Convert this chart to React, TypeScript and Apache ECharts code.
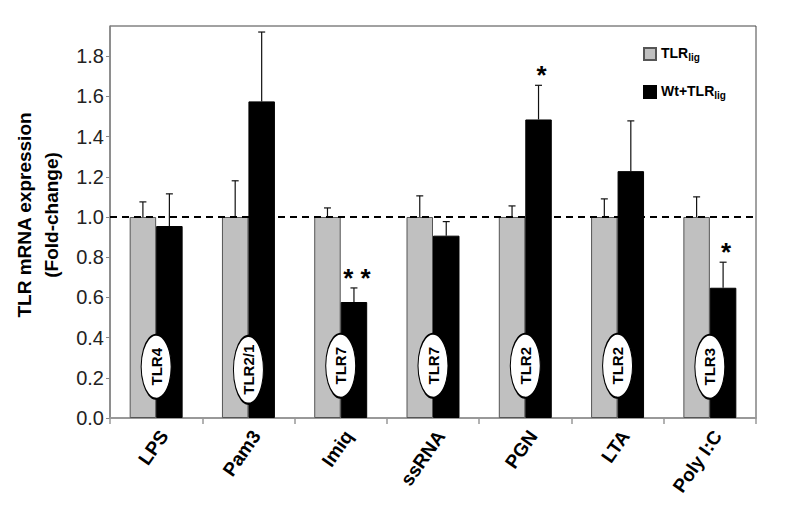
import React, { useEffect, useRef } from "react";
import * as echarts from "echarts";

const categories = ["LPS", "Pam3", "Imiq", "ssRNA", "PGN", "LTA", "Poly I:C"];
const tlrLig = [1.0, 1.0, 1.0, 1.0, 1.0, 1.0, 1.0];
const tlrLigErr = [0.075, 0.18, 0.045, 0.105, 0.055, 0.09, 0.1];
const wtTlrLig = [0.955, 1.575, 0.577, 0.907, 1.485, 1.228, 0.648];
const wtTlrLigErr = [0.16, 0.345, 0.07, 0.07, 0.17, 0.25, 0.127];
const significance = ["", "", "**", "", "*", "", "*"];
const receptorLabels = ["TLR4", "TLR2/1", "TLR7", "TLR7", "TLR2", "TLR2", "TLR3"];
const receptorLabelLevel = [0.255, 0.24, 0.26, 0.26, 0.26, 0.26, 0.255];
const yTicks = ["0.0", "0.2", "0.4", "0.6", "0.8", "1.0", "1.2", "1.4", "1.6", "1.8"];

const FONT = "'Liberation Sans', Arial, Helvetica, sans-serif";
const BAR_FRAC = 0.287;

function errorRender(offsetSign: number, stars: string[] | null) {
  return (params: any, api: any) => {
    const idx = api.value(0);
    const base = api.value(1);
    const top = api.value(2);
    const p0 = api.coord([idx, base]);
    const p1 = api.coord([idx, top]);
    const bw = api.size([1, 0])[0];
    const x = p0[0] + offsetSign * (bw * BAR_FRAC) / 2;
    const children: any[] = [
      {
        type: "line",
        shape: { x1: x, y1: p0[1], x2: x, y2: p1[1] },
        style: { stroke: "#111", lineWidth: 1.2 },
      },
      {
        type: "line",
        shape: { x1: x - 3.5, y1: p1[1], x2: x + 3.5, y2: p1[1] },
        style: { stroke: "#111", lineWidth: 1.2 },
      },
    ];
    const s = stars ? stars[params.dataIndex] : "";
    if (s) {
      children.push({
        type: "text",
        style: {
          text: s.split("").join(" "),
          x: x + 3,
          y: p1[1] + 3,
          align: "center",
          verticalAlign: "bottom",
          font: `bold 26px ${FONT}`,
          fill: "#000",
        },
      });
    }
    return { type: "group", children };
  };
}

export default function App() {
  const ref = useRef<HTMLDivElement>(null);
  useEffect(() => {
    if (!ref.current) return;
    document.body.style.margin = "0";
    const chart = echarts.init(ref.current, undefined, { renderer: "svg" });
    chart.setOption({
      animation: false,
      textStyle: { fontFamily: FONT },
      grid: {
        left: 110,
        right: 35,
        top: 26,
        bottom: 105,
        show: true,
        borderColor: "#444",
        borderWidth: 1,
      },
      legend: {
        data: ["TLR_lig", "Wt+TLR_lig"],
        orient: "vertical",
        left: 643,
        top: 44,
        padding: 0,
        itemGap: 20,
        itemWidth: 12,
        itemHeight: 12,
        icon: "rect",
        selectedMode: false,
        formatter: (name: string) => {
          const [a, b] = name.split("_");
          return `{m|${a}}{s|${b}}`;
        },
        textStyle: {
          rich: {
            m: {
              fontSize: 14,
              fontWeight: "bold",
              fontFamily: FONT,
              color: "#000",
              lineHeight: 16,
              verticalAlign: "top",
            },
            s: {
              fontSize: 10,
              fontWeight: "bold",
              fontFamily: FONT,
              color: "#000",
              lineHeight: 12,
              padding: [8, 0, 0, 0],
              verticalAlign: "bottom",
            },
          },
        },
      },
      xAxis: {
        type: "category",
        data: categories,
        axisLine: { lineStyle: { color: "#999", width: 2 } },
        axisTick: { show: true, length: 6, lineStyle: { color: "#999", width: 1.5 } },
        axisLabel: {
          interval: 0,
          rotate: 55,
          margin: 9,
          verticalAlign: "top",
          fontSize: 19,
          fontWeight: "bold",
          color: "#000",
          fontFamily: FONT,
        },
      },
      yAxis: {
        type: "value",
        min: 0,
        max: 1.95,
        interval: 0.2,
        name: "TLR mRNA expression\n(Fold-change)",
        nameLocation: "middle",
        nameRotate: 90,
        nameGap: 42,
        nameTextStyle: {
          fontSize: 19,
          fontWeight: "bold",
          color: "#000",
          fontFamily: FONT,
          lineHeight: 27,
          padding: [0, 0, 0, 14],
        },
        splitLine: { show: false },
        axisLine: { show: true, lineStyle: { color: "#888", width: 1.5 } },
        axisTick: { show: true, length: 4, lineStyle: { color: "#888" } },
        axisLabel: {
          fontSize: 20,
          color: "#222",
          margin: 6,
          fontFamily: FONT,
          showMaxLabel: false,
          formatter: (v: number) => {
            const i = Math.round(v / 0.2);
            return Math.abs(v - i * 0.2) < 1e-6 && yTicks[i] ? yTicks[i] : "";
          },
        },
      },
      series: [
        {
          name: "TLR_lig",
          type: "bar",
          data: tlrLig,
          barWidth: BAR_FRAC * 100 + "%",
          barGap: "0%",
          itemStyle: { color: "#c0c0c0", borderColor: "#555", borderWidth: 1 },
          z: 2,
          markLine: {
            silent: true,
            symbol: "none",
            label: { show: false },
            lineStyle: { color: "#000", type: [7, 5], width: 2 },
            data: [{ yAxis: 1.0 }],
            z: 5,
          },
        },
        {
          name: "Wt+TLR_lig",
          type: "bar",
          data: wtTlrLig,
          barWidth: BAR_FRAC * 100 + "%",
          itemStyle: { color: "#000", borderColor: "#000", borderWidth: 1 },
          z: 2,
        },
        {
          name: "errLig",
          type: "custom",
          renderItem: errorRender(-1, null),
          data: tlrLig.map((v, i) => [i, v, v + tlrLigErr[i]]),
          z: 4,
          silent: true,
        },
        {
          name: "errWt",
          type: "custom",
          renderItem: errorRender(1, significance),
          data: wtTlrLig.map((v, i) => [i, v, v + wtTlrLigErr[i]]),
          z: 4,
          silent: true,
        },
        {
          name: "receptor",
          type: "scatter",
          data: receptorLabelLevel.map((v, i) => [i, v]),
          symbol: "circle",
          symbolSize: (_v: any, p: any) =>
            receptorLabels[p.dataIndex].length > 4 ? [30, 68] : [30, 64],
          itemStyle: { color: "#fff", borderColor: "#000", borderWidth: 1.5, opacity: 1 },
          silent: true,
          z: 6,
          label: {
            show: true,
            position: "inside",
            rotate: 90,
            formatter: (p: any) => receptorLabels[p.dataIndex],
            fontSize: 15,
            fontWeight: "bold",
            color: "#000",
            fontFamily: FONT,
          },
        },
      ],
    });
    return () => chart.dispose();
  }, []);
  return <div ref={ref} style={{ width: 791, height: 523 }} />;
}
